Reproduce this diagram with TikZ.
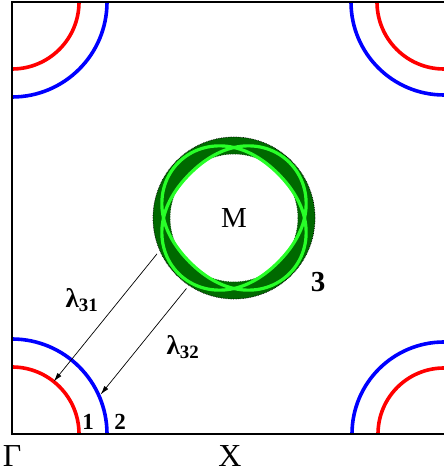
\documentclass[tikz,border=0pt]{standalone}
\usepackage{fontspec}
\setmainfont{Liberation Serif}
\usepackage{xcolor}
\usetikzlibrary{arrows.meta, positioning, calc}

\definecolor{ringdark}{RGB}{0,105,0}
\definecolor{ringlight}{RGB}{40,255,40}

\begin{document}
\begin{tikzpicture}[
    x=1pt, y=1pt,
    frame/.style={line width=2.4pt},
    bandone/.style={red, line width=3.6pt},
    bandtwo/.style={blue, line width=3.6pt},
    edge/.style={densely dotted, line width=0.7pt},
    lobe/.style={ringlight, line width=3.2pt},
    hop/.style={line width=0.7pt, -{Latex[length=9pt, width=5pt]}},
    lbl/.style={inner sep=0pt, font=\fontsize{32}{32}\selectfont},
    num/.style={inner sep=0pt, font=\fontsize{23}{23}\selectfont\bfseries},
    lam/.style={inner sep=0pt, font=\fontsize{27}{27}\selectfont\bfseries}
  ]
  \useasboundingbox (0,0) rectangle (444,474);
  % corners of the zone
  \coordinate (G) at (12,40);
  \coordinate (TL) at (12,472);
  \coordinate (TR) at (444,472);
  \coordinate (BR) at (444,40);
  \coordinate (c) at (234,256);

  % hole pockets 1 (red) and 2 (blue)
  \draw[bandone] (G) ++(0:67pt) arc[start angle=0, end angle=90, radius=67pt];
  \draw[bandtwo] (G) ++(0:95pt) arc[start angle=0, end angle=90, radius=95pt];
  \draw[bandone] (TL) ++(-90:67pt) arc[start angle=-90, end angle=0, radius=67pt];
  \draw[bandtwo] (TL) ++(-90:95pt) arc[start angle=-90, end angle=0, radius=95pt];
  \draw[bandone] (TR) ++(180:67pt) arc[start angle=180, end angle=270, radius=67pt];
  \draw[bandtwo] (TR) ++(180:93pt) arc[start angle=180, end angle=270, radius=93pt];
  \draw[bandone] (BR) ++(90:66pt) arc[start angle=90, end angle=180, radius=66pt];
  \draw[bandtwo] (BR) ++(90:92pt) arc[start angle=90, end angle=180, radius=92pt];

  % electron ring 3 around M
  \fill[ringdark, even odd rule] (c) circle (81pt) (c) circle (64pt);
  \draw[edge] (c) circle (81pt);
  \draw[edge, ringdark!60!black] (c) circle (64pt);
  \draw[lobe, shift={(c)}] plot[domain=0:360, samples=145, smooth cycle]
    ({(70.5+8*sin(2*\x))*cos(\x)}, {(70.5+8*sin(2*\x))*sin(\x)});
  \draw[lobe, shift={(c)}] plot[domain=0:360, samples=145, smooth cycle]
    ({(70.5-8*sin(2*\x))*cos(\x)}, {(70.5-8*sin(2*\x))*sin(\x)});

  % frame
  \draw[frame] (TR) -- (TL) -- (G) -- (BR);

  \node[lbl, font=\fontsize{29}{29}\selectfont] (M) at (c) {M};
  \node[lbl] (gam) at (12,18) {Γ};
  \node[lbl] (X) at (230,18) {X};
  \node[num, font=\fontsize{29}{29}\selectfont\bfseries] (n3) at (318,192) {3};
  \node[num] (n1) at (88,52) {1};
  \node[num] (n2) at (120,52) {2};

  % scattering paths
  \coordinate (s31) at ($(c)+(205:85pt)$);
  \coordinate (s32) at ($(c)+(236:85pt)$);
  \coordinate (e31) at ($(G)+(51.5:67pt)$);
  \coordinate (e32) at ($(G)+(24:97pt)$);
  \draw[hop] (s31) -- (e31);
  \draw[hop] (s32) -- (e32);
  \node[lam] (l31) at (82,174) {λ\textsubscript{31}};
  \node[lam] (l32) at (183,127) {λ\textsubscript{32}};
\end{tikzpicture}
\end{document}
